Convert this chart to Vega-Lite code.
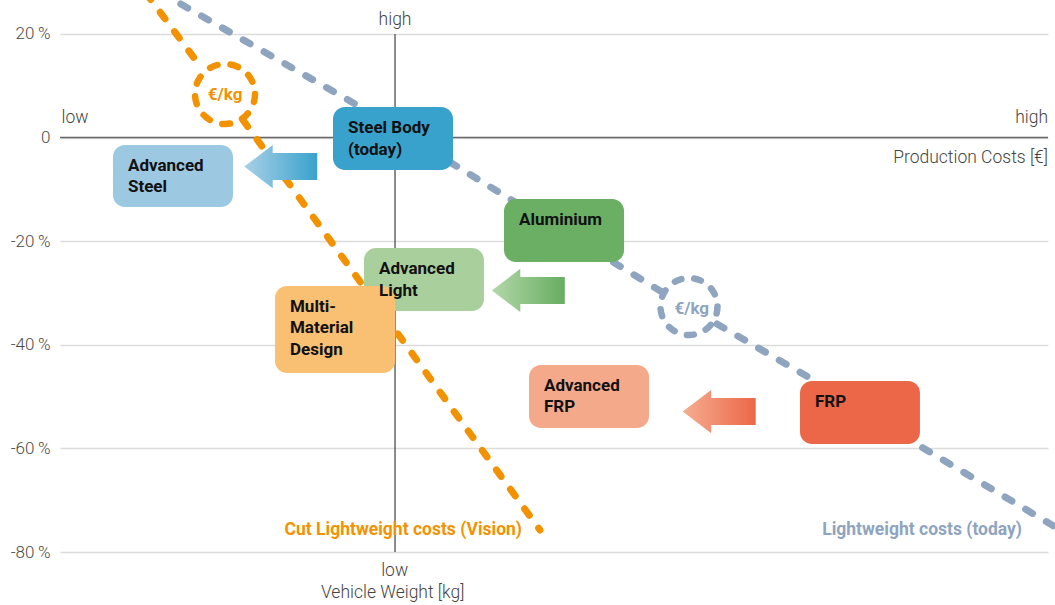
{
  "$schema": "https://vega.github.io/schema/vega-lite/v6.json",
  "width": 988,
  "height": 552,
  "autosize": {"type": "none"},
  "padding": {"left": 60, "top": 0, "right": 7, "bottom": 53},
  "background": "white",
  "config": {"view": {"stroke": null}, "font": "Roboto"},
  "datasets": {
    "rules": [
      {"x": 0, "x2": 100, "y": 0, "y2": 0},
      {"x": 33.91, "x2": 33.91, "y": 20, "y2": -80}
    ],
    "lines": [
      {"series": "vision", "seg": 1, "x": 8.70, "y": 27.91},
      {"series": "vision", "seg": 1, "x": 14.17, "y": 13.82},
      {"series": "vision", "seg": 2, "x": 18.52, "y": 3.39},
      {"series": "vision", "seg": 2, "x": 48.58, "y": -75.76},
      {"series": "today", "seg": 1, "x": 10.12, "y": 28.10},
      {"series": "today", "seg": 1, "x": 17.51, "y": 20.0},
      {"series": "today", "seg": 1, "x": 30.06, "y": 6.29},
      {"series": "today", "seg": 1, "x": 44.23, "y": -10.31},
      {"series": "today", "seg": 1, "x": 60.93, "y": -29.81},
      {"series": "today", "seg": 2, "x": 66.50, "y": -35.99},
      {"series": "today", "seg": 2, "x": 75.91, "y": -46.41},
      {"series": "today", "seg": 2, "x": 86.34, "y": -58.77},
      {"series": "today", "seg": 2, "x": 101.42, "y": -75.95}
    ],
    "rings": [
      {"series": "vision", "x": 16.70, "y": 8.41, "label": "€/kg", "ly": 8.22, "lx": 16.70},
      {"series": "today", "x": 63.66, "y": -32.61, "label": "€/kg", "ly": -33.09, "lx": 63.94}
    ],
    "arrows": [
      {"material": "Steel", "x": 22.34, "y": -5.6},
      {"material": "Light", "x": 47.40, "y": -29.5},
      {"material": "FRP", "x": 66.72, "y": -52.9}
    ],
    "boxes": [
      {"name": "Advanced Steel", "label": "Advanced\nSteel", "x": 5.36, "x2": 17.51, "y": -1.43, "y2": -13.40},
      {"name": "Steel Body", "label": "Steel Body\n(today)", "x": 27.63, "x2": 39.78, "y": 5.90, "y2": -6.26},
      {"name": "Aluminium", "label": "Aluminium", "x": 44.94, "x2": 57.09, "y": -11.86, "y2": -24.02},
      {"name": "Advanced Light", "label": "Advanced\nLight", "x": 30.77, "x2": 42.91, "y": -21.32, "y2": -33.48},
      {"name": "Multi-Material Design", "label": "Multi-\nMaterial\nDesign", "x": 21.76, "x2": 33.91, "y": -28.65, "y2": -45.45},
      {"name": "Advanced FRP", "label": "Advanced\nFRP", "x": 47.47, "x2": 59.62, "y": -43.90, "y2": -56.07},
      {"name": "FRP", "label": "FRP", "x": 74.90, "x2": 87.04, "y": -46.99, "y2": -59.15}
    ],
    "notes": [
      {"pos": "left", "text": "low", "x": 0.15, "y": 2.87},
      {"pos": "right", "text": "high", "x": 100, "y": 2.87},
      {"pos": "right", "text": "Production Costs [€]", "x": 100, "y": -4.97},
      {"pos": "center", "text": "high", "x": 33.91, "y": 21.73},
      {"pos": "center", "text": "low", "x": 33.87, "y": -84.64},
      {"pos": "center", "text": "Vehicle Weight [kg]", "x": 33.67, "y": -88.94}
    ],
    "legendText": [
      {"series": "vision", "text": "Cut Lightweight costs (Vision)", "x": 46.76, "y": -76.72},
      {"series": "today", "text": "Lightweight costs (today)", "x": 97.37, "y": -76.72}
    ]
  },
  "encoding": {
    "x": {"field": "x", "type": "quantitative", "scale": {"domain": [0, 100], "nice": false, "zero": false}, "axis": null},
    "y": {
      "field": "y", "type": "quantitative",
      "scale": {"domain": [-80, 26.56], "nice": false, "zero": false},
      "axis": {
        "title": null, "domain": false, "ticks": false, "grid": true,
        "gridColor": "#dcdcdc", "gridWidth": 1.5,
        "values": [20, 0, -20, -40, -60, -80],
        "labelExpr": "datum.value == 0 ? '0' : datum.value + '\u2009%'",
        "labelFontSize": 17, "labelColor": "#4a4a4a", "labelFont": "Roboto", "labelFontWeight": 300,
        "labelPadding": 10
      }
    }
  },
  "layer": [
    {
      "data": {"name": "rules"},
      "mark": {"type": "rule", "color": "#666666", "strokeWidth": 1.5},
      "encoding": {"x2": {"field": "x2"}, "y2": {"field": "y2"}}
    },
    {
      "data": {"name": "lines"},
      "transform": [{"filter": "datum.series == 'today'"}],
      "mark": {"type": "line", "color": "#8ea4bf", "strokeWidth": 7, "strokeDash": [8, 16], "strokeCap": "round", "clip": false},
      "encoding": {"detail": {"field": "seg", "type": "nominal"}}
    },
    {
      "data": {"name": "rings"},
      "transform": [{"filter": "datum.series == 'today'"}],
      "mark": {"type": "point", "shape": "circle", "size": 3249, "filled": false, "stroke": "#8ea4bf", "strokeWidth": 6.5, "strokeDash": [7, 12.9], "strokeCap": "round", "opacity": 1}
    },
    {
      "data": {"name": "lines"},
      "transform": [{"filter": "datum.series == 'vision'"}],
      "mark": {"type": "line", "color": "#f39200", "strokeWidth": 7, "strokeDash": [8, 16], "strokeCap": "round", "clip": false},
      "encoding": {"detail": {"field": "seg", "type": "nominal"}}
    },
    {
      "data": {"name": "rings"},
      "transform": [{"filter": "datum.series == 'vision'"}],
      "mark": {"type": "point", "shape": "circle", "size": 3600, "filled": false, "stroke": "#f39200", "strokeWidth": 6.5, "strokeDash": [8, 12.94], "strokeCap": "round", "opacity": 1}
    },
    {
      "data": {"name": "arrows"},
      "transform": [{"filter": "datum.material == 'Steel'"}],
      "mark": {"type": "point", "shape": "M-1,0L-0.22,-0.59L-0.22,-0.37L1,-0.37L1,0.37L-0.22,0.37L-0.22,0.59Z", "size": 5329, "filled": true, "opacity": 1, "strokeWidth": 0,
        "fill": {"gradient": "linear", "x1": 0, "y1": 0, "x2": 1, "y2": 0, "stops": [{"offset": 0, "color": "#a9d0e6"}, {"offset": 1, "color": "#38a2cd"}]}}
    },
    {
      "data": {"name": "arrows"},
      "transform": [{"filter": "datum.material == 'Light'"}],
      "mark": {"type": "point", "shape": "M-1,0L-0.22,-0.59L-0.22,-0.37L1,-0.37L1,0.37L-0.22,0.37L-0.22,0.59Z", "size": 5329, "filled": true, "opacity": 1, "strokeWidth": 0,
        "fill": {"gradient": "linear", "x1": 0, "y1": 0, "x2": 1, "y2": 0, "stops": [{"offset": 0, "color": "#b3d7a8"}, {"offset": 1, "color": "#67ad62"}]}}
    },
    {
      "data": {"name": "arrows"},
      "transform": [{"filter": "datum.material == 'FRP'"}],
      "mark": {"type": "point", "shape": "M-1,0L-0.22,-0.59L-0.22,-0.37L1,-0.37L1,0.37L-0.22,0.37L-0.22,0.59Z", "size": 5329, "filled": true, "opacity": 1, "strokeWidth": 0,
        "fill": {"gradient": "linear", "x1": 0, "y1": 0, "x2": 1, "y2": 0, "stops": [{"offset": 0, "color": "#f6ad91"}, {"offset": 1, "color": "#ec6748"}]}}
    },
    {
      "data": {"name": "boxes"},
      "mark": {"type": "rect", "cornerRadius": 12, "opacity": 1},
      "encoding": {
        "x2": {"field": "x2"}, "y2": {"field": "y2"},
        "color": {"field": "name", "type": "nominal", "legend": null,
          "scale": {"domain": ["Advanced Steel", "Steel Body", "Aluminium", "Advanced Light", "Multi-Material Design", "Advanced FRP", "FRP"],
                    "range": ["#9dc8e1", "#38a2cd", "#6aaf64", "#a9cf9c", "#f9c073", "#f5a98b", "#ec6748"]}}
      }
    },
    {
      "data": {"name": "boxes"},
      "mark": {"type": "text", "align": "left", "baseline": "alphabetic", "dx": 15, "dy": 26, "fontSize": 17, "fontWeight": "bold", "color": "#111111", "lineBreak": "\n", "lineHeight": 21.5},
      "encoding": {"text": {"field": "label"}}
    },
    {
      "data": {"name": "rings"},
      "transform": [{"filter": "datum.series == 'vision'"}],
      "mark": {"type": "text", "align": "center", "baseline": "middle", "fontSize": 17, "fontWeight": "bold", "color": "#f39200"},
      "encoding": {"x": {"field": "lx", "type": "quantitative"}, "y": {"field": "ly", "type": "quantitative"}, "text": {"field": "label"}}
    },
    {
      "data": {"name": "rings"},
      "transform": [{"filter": "datum.series == 'today'"}],
      "mark": {"type": "text", "align": "center", "baseline": "middle", "fontSize": 17, "fontWeight": "bold", "color": "#8ea4bf"},
      "encoding": {"x": {"field": "lx", "type": "quantitative"}, "y": {"field": "ly", "type": "quantitative"}, "text": {"field": "label"}}
    },
    {
      "data": {"name": "legendText"},
      "transform": [{"filter": "datum.series == 'vision'"}],
      "mark": {"type": "text", "align": "right", "baseline": "alphabetic", "fontSize": 17.5, "fontWeight": "bold", "color": "#f39200", "clip": false},
      "encoding": {"text": {"field": "text"}}
    },
    {
      "data": {"name": "legendText"},
      "transform": [{"filter": "datum.series == 'today'"}],
      "mark": {"type": "text", "align": "right", "baseline": "alphabetic", "fontSize": 17.5, "fontWeight": "bold", "color": "#8ea4bf", "clip": false},
      "encoding": {"text": {"field": "text"}}
    },
    {
      "data": {"name": "notes"},
      "transform": [{"filter": "datum.pos == 'left'"}],
      "mark": {"type": "text", "align": "left", "baseline": "alphabetic", "fontSize": 17.5, "fontWeight": 300, "color": "#444444"},
      "encoding": {"text": {"field": "text"}}
    },
    {
      "data": {"name": "notes"},
      "transform": [{"filter": "datum.pos == 'right'"}],
      "mark": {"type": "text", "align": "right", "baseline": "alphabetic", "fontSize": 17.5, "fontWeight": 300, "color": "#444444"},
      "encoding": {"text": {"field": "text"}}
    },
    {
      "data": {"name": "notes"},
      "transform": [{"filter": "datum.pos == 'center'"}],
      "mark": {"type": "text", "align": "center", "baseline": "alphabetic", "fontSize": 17.5, "fontWeight": 300, "color": "#444444"},
      "encoding": {"text": {"field": "text"}}
    }
  ]
}
